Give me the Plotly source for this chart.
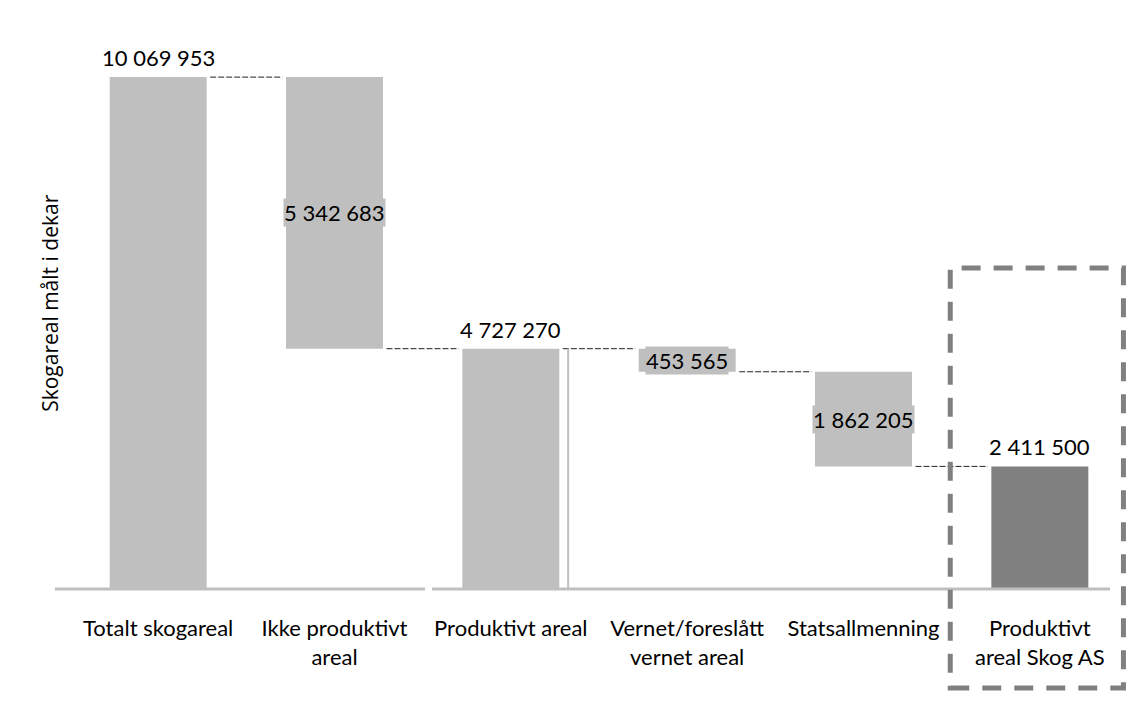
import plotly.graph_objects as go

categories = ["Totalt skogareal", "Ikke produktivt<br>areal", "Produktivt areal",
              "Vernet/foreslått<br>vernet areal", "Statsallmenning", "Produktivt<br>areal Skog AS"]
amounts = [10069953, 5342683, 4727270, 453565, 1862205, 2411500]
kinds = ["total", "decrease", "total", "decrease", "decrease", "total"]
bar_colors = ["#BFBFBF", "#BFBFBF", "#BFBFBF", "#BFBFBF", "#BFBFBF", "#808080"]
y_title = "Skogareal målt i dekar"

FONT = "Lato"
W = 0.55

# compute bases
bases, levels = [], []
level = 0
for a, k in zip(amounts, kinds):
    if k == "total":
        bases.append(0)
        level = a
    else:
        level = level - a
        bases.append(level)
    levels.append(level)

xs = list(range(len(categories)))
fig = go.Figure()
fig.add_trace(go.Bar(x=xs, y=amounts, base=bases, width=W,
                     marker=dict(color=bar_colors, line=dict(width=0)),
                     hoverinfo="skip", showlegend=False))

def fmt(v):
    return f"{v:,}".replace(",", " ")

# connectors
for i in range(len(xs) - 1):
    lv = amounts[i] if kinds[i] == "total" else levels[i]
    fig.add_trace(go.Scatter(x=[i + W / 2 + 0.02, i + 1 - W / 2 - 0.02], y=[lv, lv], mode="lines",
                             line=dict(color="#222222", width=1, dash="6px,2px"),
                             hoverinfo="skip", showlegend=False))

annotations = []
for i, (a, b, k) in enumerate(zip(amounts, bases, kinds)):
    if k == "total":
        annotations.append(dict(x=i, y=a + b, text=fmt(a), showarrow=False, yanchor="bottom",
                                yshift=4, font=dict(family=FONT, size=22, color="black")))
    else:
        annotations.append(dict(x=i, y=b + a / 2, text=fmt(a), showarrow=False, yanchor="middle",
                                bgcolor="#BFBFBF", borderpad=0,
                                font=dict(family=FONT, size=22, color="black")))

annotations.append(dict(xref="paper", yref="paper", x=-0.019, y=0.521, text=y_title,
                        textangle=-90, showarrow=False, xanchor="center", yanchor="middle",
                        font=dict(family="Open Sans", size=21, color="black")))

shapes = [
    # baseline segments
    dict(type="line", xref="paper", yref="paper", x0=-0.0142, x1=0.3355, y0=0, y1=0,
         line=dict(color="#BFBFBF", width=3)),
    dict(type="line", xref="paper", yref="paper", x0=0.3422, x1=0.983, y0=0, y1=0,
         line=dict(color="#BFBFBF", width=3)),
    # thin divider after bar 3
    dict(type="line", xref="x", yref="y", x0=2 + W / 2 + 0.05, x1=2 + W / 2 + 0.05, y0=0, y1=amounts[2],
         line=dict(color="#BFBFBF", width=2)),
    # dashed highlight box
    dict(type="rect", xref="paper", yref="paper", x0=0.832, x1=0.9957, y0=-0.1803, y1=0.5847,
         line=dict(color="#808080", width=5, dash="19px,13px"), fillcolor="rgba(0,0,0,0)"),
]

fig.update_layout(
    width=1145, height=717,
    margin=dict(l=70, r=17, t=40, b=128),
    plot_bgcolor="white", paper_bgcolor="white",
    annotations=annotations, shapes=shapes,
    xaxis=dict(tickvals=xs, ticktext=categories, range=[-0.5, 5.5], showgrid=False,
               zeroline=False, showline=False, ticks="", ticklabelstandoff=24,
               tickfont=dict(family=FONT, size=22, color="black")),
    yaxis=dict(range=[0, 10.8e6], showgrid=False, zeroline=False, showline=False,
               showticklabels=False, ticks=""),
    bargap=0.45,
)

fig.write_html("out.html")
